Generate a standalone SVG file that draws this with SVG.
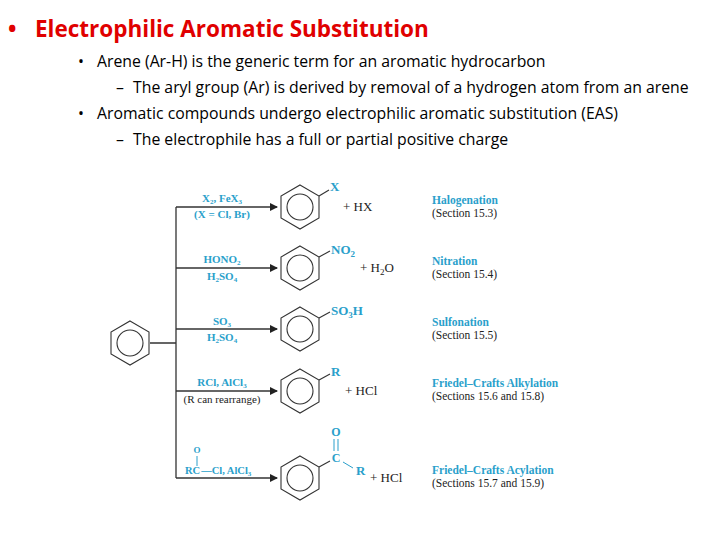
<svg xmlns="http://www.w3.org/2000/svg" width="720" height="540" viewBox="0 0 720 540">
<defs>
<style>
.t{font-family:"Open Sans","Liberation Sans",sans-serif;font-size:15.8px;fill:#000}
.b{font-family:"Liberation Serif","Times New Roman",serif;font-weight:bold;fill:#2a9fcb}
.k{font-family:"Liberation Serif","Times New Roman",serif;fill:#222}
.ln{stroke:#333;stroke-width:1.3;fill:none}
.rg{stroke:#333;stroke-width:1.1;fill:none}
</style>
<marker id="ar" markerWidth="8" markerHeight="8" refX="7" refY="4" orient="auto" markerUnits="userSpaceOnUse"><path d="M0,0L8,4L0,8z" fill="#222"/></marker>
<g id="benz"><polygon class="rg" points="0,-22 19,-11 19,11 0,22 -19,11 -19,-11"/><circle class="rg" cx="0" cy="0" r="13"/></g>
</defs>
<rect width="720" height="540" fill="#fff"/>
<g id="header">
<text x="8" y="37" style="font-family:'Open Sans','Liberation Sans',sans-serif;font-size:22.5px;font-weight:bold;fill:#e00000">•</text>
<text x="35" y="37" style="font-family:'Open Sans','Liberation Sans',sans-serif;font-size:22.5px;font-weight:bold;fill:#e00000">Electrophilic Aromatic Substitution</text>
<text class="t" x="78" y="67">•</text><text class="t" x="97" y="67">Arene (Ar-H) is the generic term for an aromatic hydrocarbon</text>
<text class="t" x="116" y="93">–</text><text class="t" x="133" y="93">The aryl group (Ar)  is derived by removal of a hydrogen atom from an arene</text>
<text class="t" x="78" y="119">•</text><text class="t" x="97" y="119">Aromatic compounds undergo electrophilic aromatic substitution (EAS)</text>
<text class="t" x="116" y="145">–</text><text class="t" x="133" y="145">The electrophile has a full or partial positive charge</text>
</g>
<g id="connectors">
<path class="ln" d="M150,343H176M176,207V478"/>
<path class="ln" d="M176,207H277" marker-end="url(#ar)"/>
<path class="ln" d="M176,268H277" marker-end="url(#ar)"/>
<path class="ln" d="M176,329H277" marker-end="url(#ar)"/>
<path class="ln" d="M176,391H277" marker-end="url(#ar)"/>
<path class="ln" d="M176,478H277" marker-end="url(#ar)"/>
</g>
<g id="start"><use href="#benz" x="130" y="343"/></g>
<g id="halogenation">
<text class="b" x="222" y="202" font-size="11" text-anchor="middle">X<tspan font-size="7" dy="2">2</tspan><tspan dy="-2">, FeX</tspan><tspan font-size="7" dy="2">3</tspan></text>
<text class="b" x="222" y="218" font-size="11" text-anchor="middle">(X = Cl, Br)</text>
<use href="#benz" x="300" y="207"/>
<path class="rg" d="M319,196L329,190"/>
<text class="b" x="330" y="191" font-size="13">X</text>
<text class="k" x="343" y="211" font-size="13">+ HX</text>
<text class="b" x="432" y="204" font-size="11.5">Halogenation</text>
<text class="k" x="432" y="217" font-size="11.5">(Section 15.3)</text>
</g>
<g id="nitration">
<text class="b" x="222" y="263" font-size="11" text-anchor="middle">HONO<tspan font-size="7" dy="2">2</tspan></text>
<text class="b" x="222" y="280" font-size="11" text-anchor="middle">H<tspan font-size="7" dy="2">2</tspan><tspan dy="-2">SO</tspan><tspan font-size="7" dy="2">4</tspan></text>
<use href="#benz" x="300" y="268"/>
<path class="rg" d="M319,257L330,251"/>
<text class="b" x="331" y="254" font-size="13">NO<tspan font-size="9" dy="3">2</tspan></text>
<text class="k" x="360" y="272" font-size="13">+ H<tspan font-size="9" dy="3">2</tspan><tspan dy="-3">O</tspan></text>
<text class="b" x="432" y="265" font-size="11.5">Nitration</text>
<text class="k" x="432" y="278" font-size="11.5">(Section 15.4)</text>
</g>
<g id="sulfonation">
<text class="b" x="222" y="325" font-size="11" text-anchor="middle">SO<tspan font-size="7" dy="2">3</tspan></text>
<text class="b" x="222" y="341" font-size="11" text-anchor="middle">H<tspan font-size="7" dy="2">2</tspan><tspan dy="-2">SO</tspan><tspan font-size="7" dy="2">4</tspan></text>
<use href="#benz" x="300" y="329"/>
<path class="rg" d="M319,318L330,312"/>
<text class="b" x="331" y="315" font-size="13">SO<tspan font-size="9" dy="3">3</tspan><tspan dy="-3">H</tspan></text>
<text class="b" x="432" y="326" font-size="11.5">Sulfonation</text>
<text class="k" x="432" y="339" font-size="11.5">(Section 15.5)</text>
</g>
<g id="alkylation">
<text class="b" x="222" y="386" font-size="11" text-anchor="middle">RCl, AlCl<tspan font-size="7" dy="2">3</tspan></text>
<text class="k" x="222" y="403" font-size="11" text-anchor="middle">(R can rearrange)</text>
<use href="#benz" x="300" y="391"/>
<path class="rg" d="M319,380L330,374"/>
<text class="b" x="331" y="376" font-size="13">R</text>
<text class="k" x="345" y="395" font-size="13">+ HCl</text>
<text class="b" x="432" y="387" font-size="11.5">Friedel–Crafts Alkylation</text>
<text class="k" x="432" y="400" font-size="11.5">(Sections 15.6 and 15.8)</text>
</g>
<g id="acylation">
<text class="b" x="197" y="453" font-size="9" text-anchor="middle">O</text>
<path d="M197,456V466" stroke="#2a9fcb" stroke-width="1"/>
<text class="b" x="185" y="474" font-size="10.5">RC<tspan dx="1">—Cl, AlCl</tspan><tspan font-size="7" dy="2">3</tspan></text>
<use href="#benz" x="300" y="478"/>
<path class="rg" d="M319,467L330,461"/>
<text class="b" x="336" y="436" font-size="12" text-anchor="middle">O</text>
<path d="M334,439V451M338,439V451" stroke="#2a9fcb" stroke-width="1"/>
<text class="b" x="336" y="462" font-size="12" text-anchor="middle">C</text>
<path d="M343,462L353,468" stroke="#2a9fcb" stroke-width="1"/>
<text class="b" x="356" y="475" font-size="13">R</text>
<text class="k" x="370" y="482" font-size="13">+ HCl</text>
<text class="b" x="432" y="474" font-size="11.5">Friedel–Crafts Acylation</text>
<text class="k" x="432" y="487" font-size="11.5">(Sections 15.7 and 15.9)</text>
</g>
</svg>
